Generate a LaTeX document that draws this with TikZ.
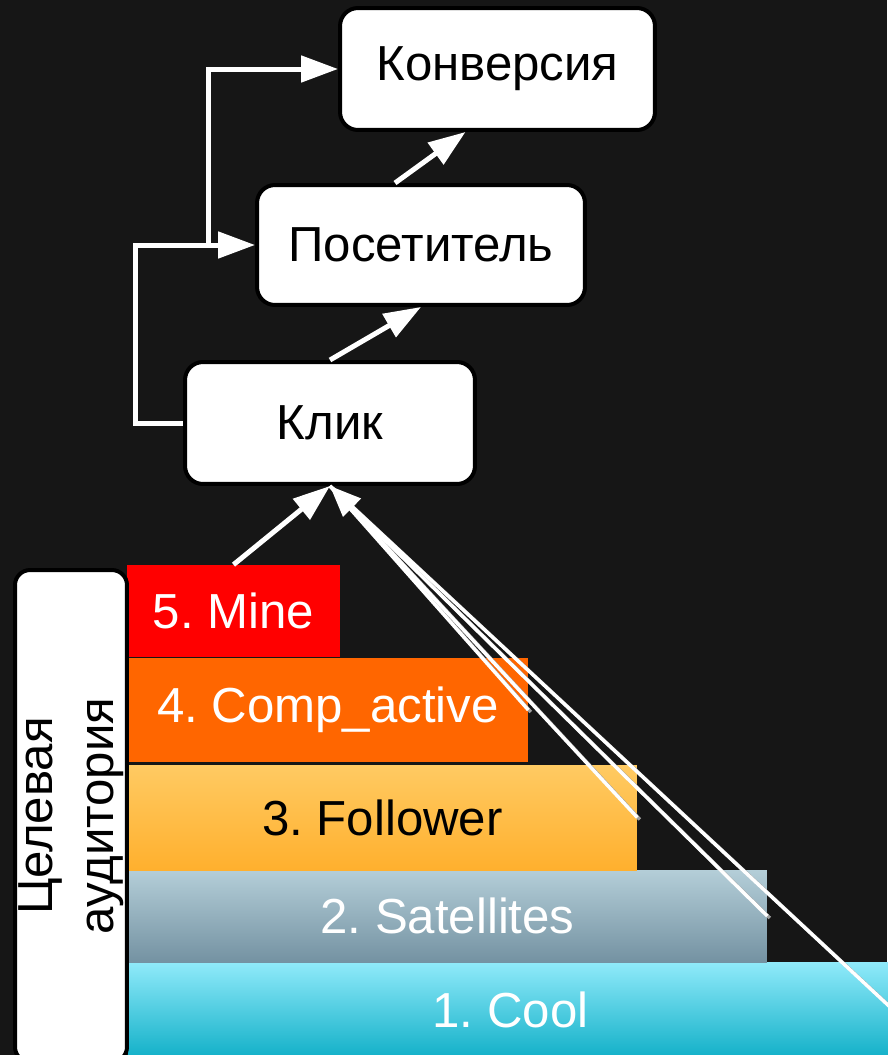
\documentclass[tikz,border=0pt]{standalone}
\usepackage{fontspec}
\setmainfont{Liberation Sans}
\usetikzlibrary{arrows.meta,calc}
\definecolor{bg}{RGB}{22,22,22}
\definecolor{redbar}{RGB}{255,0,0}
\definecolor{orangebar}{RGB}{255,102,0}
\definecolor{yeltop}{RGB}{255,202,98}
\definecolor{yelbot}{RGB}{255,176,46}
\definecolor{graytop}{RGB}{180,206,216}
\definecolor{graybot}{RGB}{116,146,162}
\definecolor{cyantop}{RGB}{144,234,250}
\definecolor{cyanbot}{RGB}{18,176,200}
\frenchspacing
\begin{document}
\begin{tikzpicture}[x=0.02cm,y=-0.02cm,
  box/.style={draw=black, line width=0.08cm, fill=white, rounded corners=0.36cm, inner sep=0pt, font=\fontsize{28}{33}\selectfont, text=black},
  conn/.style={draw=white, line width=0.1cm, -{Triangle[length=0.74cm,width=0.52cm]}},
  bar/.style={inner sep=0pt, font=\fontsize{28}{33}\selectfont, text=white},
  ray/.style={draw=white, line width=0.07cm},
  rayshadow/.style={draw=gray!75, line width=0.07cm, transform canvas={xshift=0.05cm,yshift=-0.04cm}}
]
\fill[bg] (0,0) rectangle (887,1055);
\useasboundingbox (0,0) rectangle (887,1055);

% funnel boxes
\node[box, minimum width=6.3cm, minimum height=2.44cm] (konv) at (497.5,69) {Конверсия};
\node[box, minimum width=6.56cm, minimum height=2.4cm] (pos) at (421,245) {Посетитель};
\node[box, minimum width=5.8cm, minimum height=2.44cm] (klik) at (330,423) {Клик};

% bars
\node[bar, fill=cyanbot, top color=cyantop, bottom color=cyanbot, minimum width=15.3cm, minimum height=1.92cm] (b1) at (510.5,1010) {1. Cool};
\node[bar, fill=graybot, top color=graytop, bottom color=graybot, minimum width=12.78cm, minimum height=1.84cm] (b2) at (447.5,916) {2. Satellites};
\node[bar, fill=yelbot, top color=yeltop, bottom color=yelbot, text=black, minimum width=10.18cm, minimum height=2.1cm] (b3) at (382.5,817.5) {3. Follower};
\node[bar, fill=orangebar, minimum width=8.0cm, minimum height=2.08cm] (b4) at (328,710) {4. Comp\_active};
\node[bar, fill=redbar, minimum width=4.26cm, minimum height=1.84cm] (b5) at (233.5,611) {5. Mine};

% audience box
\node[box, rotate=90, rounded corners=0.3cm, minimum width=9.84cm, minimum height=2.24cm, align=center, font=\fontsize{28}{34.5}\selectfont] (aud) at (71,816) {Целевая\\аудитория};

% connectors
\draw[conn] (klik.north) -- (pos.south);
\draw[conn] ($(pos.north)+(-26,0)$) -- ($(konv.south)+(-32,0)$);
\draw[conn] (klik.west) -- ++(-48,0) |- (pos.west);
\coordinate (br) at (208,245);
\draw[conn] (br) |- (konv.west);
\draw[conn] (b5.north) -- (klik.south);

% rays from bars
\draw[rayshadow] (b4.east) -- (klik.south);
\draw[rayshadow] (b3.east) -- (klik.south);
\draw[rayshadow] (b2.east) -- (klik.south);
\draw[rayshadow] (b1.east) -- (klik.south);
\draw[ray] (b4.east) -- (klik.south);
\draw[ray] (b3.east) -- (klik.south);
\draw[ray] (b1.east) -- (klik.south);
\draw[ray, -{Triangle[length=0.62cm,width=0.5cm]}] (b2.east) -- (klik.south);
\end{tikzpicture}
\end{document}
